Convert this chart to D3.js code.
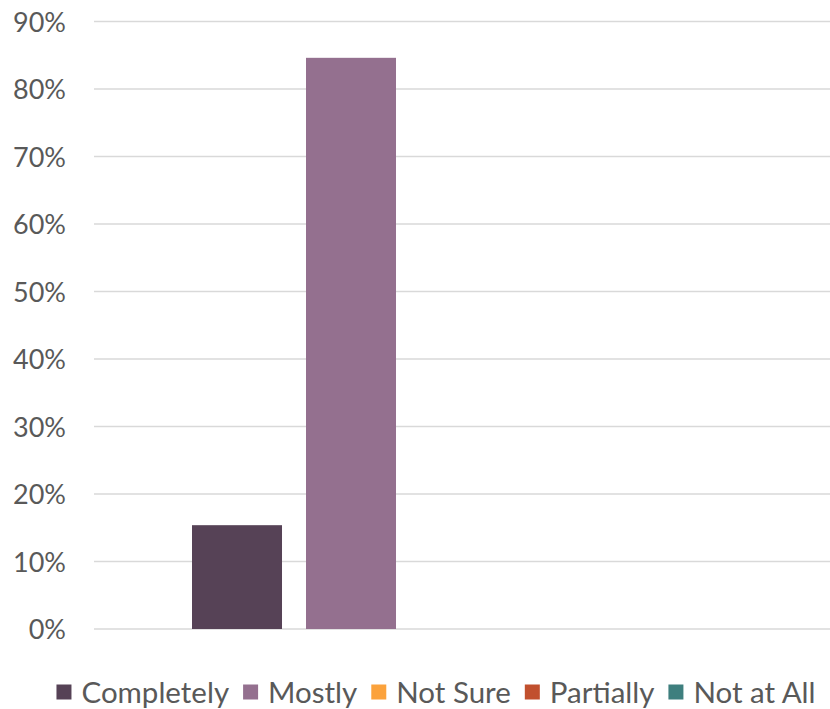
<!DOCTYPE html>
<html>
<head>
<meta charset="utf-8">
<script src="https://cdn.jsdelivr.net/npm/d3@7"></script>
<style>
  body { margin: 0; background: #fff; }
  text { font-family: Lato, "Open Sans", sans-serif; fill: #595959; }
</style>
</head>
<body>
<svg id="chart" width="830" height="709"></svg>
<script>
// one category, five answer series
var categories = ["Answer"];
var series = ["Completely", "Mostly", "Not Sure", "Partially", "Not at All"];
var values = [15.38, 84.62, 0, 0, 0];
var colors = ["#564256", "#94708f", "#fba23c", "#c1502e", "#3e7f7e"];
var yTicks = [0, 10, 20, 30, 40, 50, 60, 70, 80, 90];

var svg = d3.select("#chart");

var plotLeft = 94, plotRight = 836, plotTop = 21.5, plotBottom = 629;

var y = d3.scaleLinear().domain([0, 90]).range([plotBottom, plotTop]);

// outer band for the category, inner band for the series
var x0 = d3.scaleBand().domain(categories).range([plotLeft, plotRight])
    .paddingInner(0).paddingOuter(0.1795);
var x1 = d3.scaleBand().domain(series).range([0, x0.bandwidth()])
    .paddingInner(0.2105).paddingOuter(0);

// gridlines
svg.append("g")
  .selectAll("line")
  .data(yTicks)
  .join("line")
    .attr("x1", plotLeft)
    .attr("x2", plotRight)
    .attr("y1", function(d) { return y(d); })
    .attr("y2", function(d) { return y(d); })
    .attr("stroke", "#d9d9d9")
    .attr("stroke-width", 1.5);

// y axis labels
var yAxis = d3.axisLeft(y).tickValues(yTicks).tickSize(0).tickPadding(0)
    .tickFormat(function(d) { return d + "%"; });
var yg = svg.append("g").attr("transform", "translate(66,0)").call(yAxis);
yg.select(".domain").remove();
yg.selectAll("text")
  .style("font-size", "27px")
  .style("font-family", "Lato, 'Open Sans', sans-serif")
  .attr("fill", "#595959")
  .attr("dy", "0.36em");

// bars
var groups = svg.append("g")
  .selectAll("g")
  .data(categories)
  .join("g")
    .attr("transform", function(d) { return "translate(" + x0(d) + ",0)"; });

groups.selectAll("rect")
  .data(series.map(function(s, i) { return { name: s, value: values[i], color: colors[i] }; }))
  .join("rect")
    .attr("x", function(d) { return x1(d.name); })
    .attr("y", function(d) { return y(d.value); })
    .attr("width", x1.bandwidth())
    .attr("height", function(d) { return y(0) - y(d.value); })
    .attr("fill", function(d) { return d.color; });

// legend
var legend = svg.append("g");
var lx = 0;
series.forEach(function(s, i) {
  var item = legend.append("g").attr("transform", "translate(" + lx + ",0)");
  item.append("rect")
    .attr("x", 0).attr("y", -7.5)
    .attr("width", 15).attr("height", 15)
    .attr("fill", colors[i]);
  var t = item.append("text")
    .attr("x", 25).attr("y", 0)
    .attr("dy", "0.36em")
    .style("font-size", "29.5px")
    .text(s);
  lx += 25 + t.node().getComputedTextLength() + 14;
});
var legendW = lx - 14;
legend.attr("transform", "translate(" + (436 - legendW / 2) + ",692)");
</script>
</body>
</html>
